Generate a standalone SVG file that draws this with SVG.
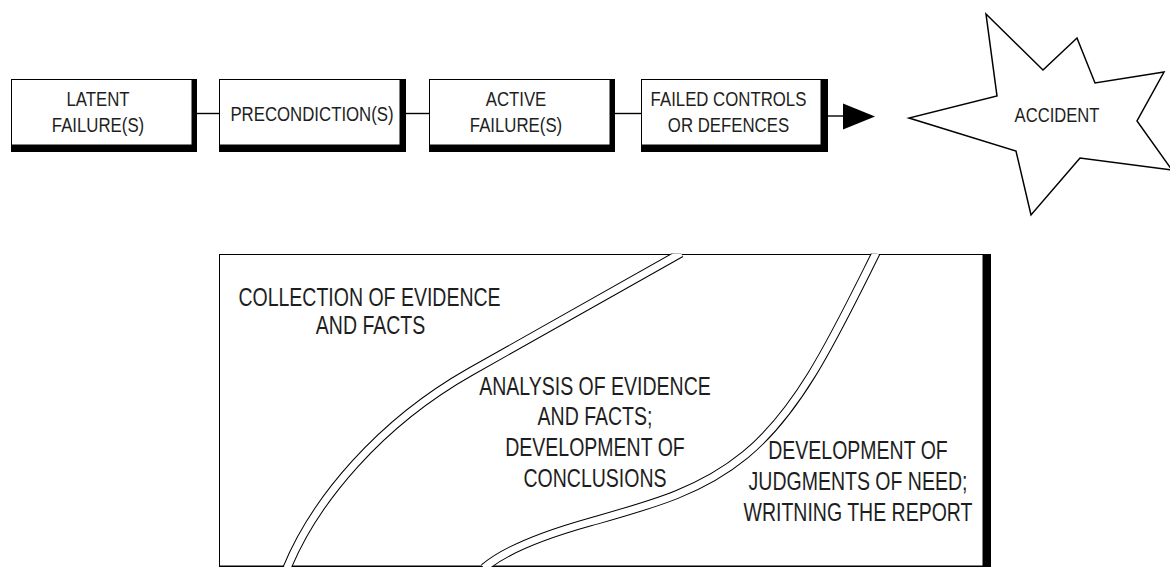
<svg xmlns="http://www.w3.org/2000/svg" width="1170" height="567" viewBox="0 0 1170 567">
  <defs>
    <style>
      .lbl { font-family: "Liberation Sans", Arial, sans-serif; fill: #1e1e1e; text-anchor: middle; }
      .s { font-size: 21px; }
      .m { font-size: 20px; }
      .l { font-size: 25.5px; }
      .shadow { fill: #000; }
      .face { fill: #fff; stroke: #000; stroke-width: 1; }
      .wire { fill: none; stroke: #000; stroke-width: 1.4; }
      .star { fill: #fff; stroke: #000; stroke-width: 1.5; stroke-linejoin: miter; }
      .band-out { fill: none; stroke: #000; stroke-width: 9; }
      .band-in { fill: none; stroke: #fff; stroke-width: 7; }
    </style>
    <clipPath id="inside">
      <rect x="219" y="253.5" width="764" height="314"/>
    </clipPath>
    <!-- boundaries between the three phases -->
    <path id="divide-1" d="M681,253 L470,372 C380,423 315,500 287,568"/>
    <path id="divide-2" d="M876,253 C835,335 800,410 745,455 C700,492 650,505 590,522 C540,536 505,550 484,568"/>
  </defs>

  <rect width="1170" height="567" fill="#fff"/>

  <!-- chain connectors -->
  <g id="connectors">
    <line class="wire" x1="197" y1="113.5" x2="219" y2="113.5"/>
    <line class="wire" x1="406" y1="113.5" x2="429" y2="113.5"/>
    <line class="wire" x1="615" y1="113.5" x2="641" y2="113.5"/>
    <line class="wire" x1="828" y1="116" x2="845" y2="116"/>
    <polygon points="843,103.5 875,116.5 843,129.5" fill="#000"/>
  </g>

  <g id="latent">
    <rect class="shadow" x="11" y="79" width="186" height="73"/>
    <rect class="face" x="11.5" y="79.5" width="180.5" height="65.5"/>
    <text class="lbl s" transform="translate(98 106) scale(0.8 1)">LATENT</text>
    <text class="lbl s" transform="translate(98 132) scale(0.8 1)">FAILURE(S)</text>
  </g>

  <g id="precondition">
    <rect class="shadow" x="219" y="79" width="187" height="73"/>
    <rect class="face" x="219.5" y="79.5" width="180.5" height="65.5"/>
    <text class="lbl s" transform="translate(312 121) scale(0.8 1)">PRECONDICTION(S)</text>
  </g>

  <g id="active">
    <rect class="shadow" x="429" y="79" width="186" height="73"/>
    <rect class="face" x="429.5" y="79.5" width="180.5" height="65.5"/>
    <text class="lbl s" transform="translate(516 106) scale(0.8 1)">ACTIVE</text>
    <text class="lbl s" transform="translate(516 132) scale(0.8 1)">FAILURE(S)</text>
  </g>

  <g id="defences">
    <rect class="shadow" x="641" y="79" width="187" height="73"/>
    <rect class="face" x="641.5" y="79.5" width="179.5" height="65.5"/>
    <text class="lbl s" transform="translate(728.5 106) scale(0.8 1)">FAILED CONTROLS</text>
    <text class="lbl s" transform="translate(728.5 132) scale(0.8 1)">OR DEFENCES</text>
  </g>

  <g id="accident">
    <polygon class="star" points="986,14 1043,70 1077,38 1095,83 1164,72 1137,121 1172,170 1080,158 1031,215 1016,151 909,118 997,96"/>
    <text class="lbl m" transform="translate(1057 122) scale(0.83 1)">ACCIDENT</text>
  </g>

  <!-- investigation phases panel -->
  <g id="phases">
    <rect class="shadow" x="219" y="254" width="772" height="320"/>
    <rect class="face" x="219.5" y="254.5" width="763.5" height="311.5"/>
    <g clip-path="url(#inside)">
      <use href="#divide-1" class="band-out"/>
      <use href="#divide-2" class="band-out"/>
      <use href="#divide-1" class="band-in"/>
      <use href="#divide-2" class="band-in"/>
    </g>
    <text class="lbl l" transform="translate(369.5 306) scale(0.765 1)">COLLECTION OF EVIDENCE</text>
    <text class="lbl l" transform="translate(370.5 334) scale(0.765 1)">AND FACTS</text>
    <text class="lbl l" transform="translate(595 395) scale(0.765 1)">ANALYSIS OF EVIDENCE</text>
    <text class="lbl l" transform="translate(595 425) scale(0.765 1)">AND FACTS;</text>
    <text class="lbl l" transform="translate(595 456) scale(0.765 1)">DEVELOPMENT OF</text>
    <text class="lbl l" transform="translate(595 487) scale(0.765 1)">CONCLUSIONS</text>
    <text class="lbl l" transform="translate(858 459) scale(0.765 1)">DEVELOPMENT OF</text>
    <text class="lbl l" transform="translate(858 490) scale(0.765 1)">JUDGMENTS OF NEED;</text>
    <text class="lbl l" transform="translate(858 521) scale(0.765 1)">WRITNING THE REPORT</text>
  </g>
</svg>
